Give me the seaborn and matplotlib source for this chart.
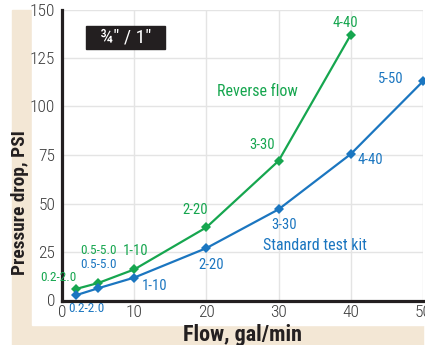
import matplotlib
matplotlib.use("Agg")
import matplotlib.pyplot as plt
from matplotlib import font_manager
from matplotlib.patches import Rectangle
import seaborn as sns
import pandas as pd

# flow (gal/min) vs pressure drop (PSI) for the 3/4" / 1" meter
flow = [2, 5, 10, 20, 30, 40, 50]
reverse_psi = [6, 9, 16, 37.7, 72, 137]
standard_psi = [2.8, 6.3, 11.8, 27, 47, 75.5, 113]

reverse_labels = ["0.2-2.0", "0.5-5.0", "1-10", "2-20", "3-30", "4-40"]
reverse_lx = [-0.5, 5.0, 10.2, 18.5, 27.7, 39.3]
reverse_ly = [12.1, 26.0, 25.5, 46.6, 80.2, 143.2]
reverse_ls = [9.5, 9.5, 10.5, 10.5, 10.5, 10.5]

standard_labels = ["0.2-2.0", "0.5-5.0", "1-10", "2-20", "3-30", "4-40", "5-50"]
standard_lx = [3.4, 5.0, 12.8, 20.7, 30.8, 42.7, 45.6]
standard_ly = [-4.3, 18.6, 7.5, 18.3, 38.9, 72.4, 114.2]
standard_ls = [9.5, 9.5, 10.5, 10.5, 10.5, 10.5, 10.5]

green = "#16a64f"
blue = "#1b76c0"
beige = "#f3e7d5"

df = pd.concat([
    pd.DataFrame({"flow": flow[:len(reverse_psi)], "psi": reverse_psi, "series": "Reverse flow"}),
    pd.DataFrame({"flow": flow, "psi": standard_psi, "series": "Standard test kit"}),
])

sns.set_theme(style="whitegrid")
# pick a narrow face if one is installed, the reference uses a condensed grotesque
installed = {f.name for f in font_manager.fontManager.ttflist}
narrow = [n for n in ["Liberation Sans Narrow", "Roboto Condensed", "Open Sans Condensed",
                      "DejaVu Sans Condensed"] if n in installed]
plt.rcParams["font.family"] = narrow + ["DejaVu Sans"]
plt.rcParams["font.stretch"] = "condensed"

fig = plt.figure(figsize=(4.25, 3.45), dpi=100)
W, H = 425, 345
# beige L-shaped frame behind the white plot panel
fig.patches.append(Rectangle((12 / W, 0), 411 / W, 335 / H, transform=fig.transFigure,
                             color=beige, zorder=-2))
fig.patches.append(Rectangle((32 / W, 20 / H), 393 / W, 325 / H, transform=fig.transFigure,
                             color="white", zorder=-1))

ax = fig.add_axes([62 / W, 1 - 300.5 / H, 361 / W, 291 / H])
ax.set_zorder(1)
ax.set_facecolor("none")

sns.lineplot(data=df, x="flow", y="psi", hue="series",
             palette={"Reverse flow": green, "Standard test kit": blue},
             marker="D", markersize=5, markeredgewidth=0, linewidth=1.6,
             legend=False, ax=ax, clip_on=False)

ax.set_xlim(0, 50)
ax.set_ylim(0, 150)
ax.set_xticks([0, 10, 20, 30, 40, 50])
ax.set_yticks([0, 25, 50, 75, 100, 125, 150])
ax.grid(True, color="#e4e4e4", linewidth=1)
ax.tick_params(axis="both", length=0, labelsize=12.5, labelcolor="#3a3a3a")
ax.tick_params(axis="y", pad=5)
ax.tick_params(axis="x", pad=3)
for lab in ax.get_xticklabels() + ax.get_yticklabels():
    lab.set_fontweight("light")
ax.set_xlabel("")
ax.set_ylabel("")
for s in ["top", "right"]:
    ax.spines[s].set_visible(False)
for s in ["left", "bottom"]:
    ax.spines[s].set_color("#231f20")
    ax.spines[s].set_linewidth(2.3)

for t, x, y, fs in zip(reverse_labels, reverse_lx, reverse_ly, reverse_ls):
    ax.text(x, y, t, color=green, fontsize=fs, ha="center", va="center", clip_on=False)
for t, x, y, fs in zip(standard_labels, standard_lx, standard_ly, standard_ls):
    ax.text(x, y, t, color=blue, fontsize=fs, ha="center", va="center", clip_on=False)

ax.text(27.0, 107.6, "Reverse flow", color=green, fontsize=11.5, ha="center", va="center")
ax.text(35.1, 28.2, "Standard test kit", color=blue, fontsize=11.5, ha="center", va="center")

# size badge
fig.patches.append(Rectangle((86 / W, 1 - 49 / H), 79 / W, 23 / H, transform=fig.transFigure,
                             color="#231f20", zorder=5))
fig.text(126 / W, 1 - 37.5 / H, "¾\" / 1\"", color="white", fontsize=14,
         ha="center", va="center", zorder=6)

xlab = fig.text(242 / W, 1 - 335 / H, "Flow, gal/min", fontsize=15.5, fontweight="bold",
                color="#231f20", ha="center", va="center")
ylab = fig.text(20 / W, 1 - 202.5 / H, "Pressure drop, PSI", fontsize=13.5, fontweight="bold",
                color="#231f20", ha="center", va="center", rotation=90)

# scale the axis titles so their length matches the reference (119 px / 145 px)
r = fig.canvas.get_renderer()
bx = xlab.get_window_extent(r)
xlab.set_fontsize(15.5 * 119 / bx.width)
by = ylab.get_window_extent(r)
ylab.set_fontsize(13.5 * 145 / by.height)

fig.savefig("out.png", dpi=100)
